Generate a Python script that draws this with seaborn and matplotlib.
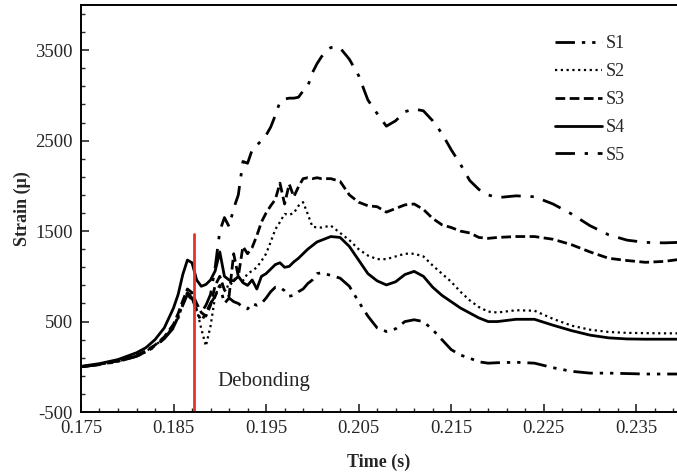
import matplotlib
matplotlib.use("Agg")
import matplotlib.pyplot as plt
from matplotlib.ticker import MultipleLocator
import pandas as pd
import seaborn as sns

# time axis (s), shared by all gauges
time_s = [
    0.175, 0.177, 0.179, 0.181, 0.182, 0.183, 0.184, 0.185, 0.1855, 0.186,
    0.1865, 0.187, 0.1875, 0.188, 0.1885, 0.189, 0.1895, 0.190, 0.1905, 0.191,
    0.1915, 0.192, 0.1925, 0.193, 0.1935, 0.194, 0.1945, 0.195, 0.1955, 0.196,
    0.1965, 0.197, 0.1975, 0.198, 0.1985, 0.199, 0.1995, 0.200, 0.2005, 0.201,
    0.202, 0.203, 0.204, 0.205, 0.206, 0.207, 0.208, 0.209, 0.210, 0.211,
    0.212, 0.213, 0.214, 0.215, 0.216, 0.217, 0.218, 0.219, 0.220, 0.222,
    0.224, 0.226, 0.228, 0.230, 0.232, 0.234, 0.236, 0.238, 0.2395,
]

s1 = [
    0, 25, 60, 118, 165, 230, 315, 440, 550, 690,
    820, 760, 620, 500, 600, 700, 780, 900, 700, 760,
    720, 700, 660, 640, 700, 680, 700, 760, 830, 880,
    880, 840, 780, 790, 830, 860, 920, 960, 1030, 1040,
    1010, 980, 890, 720, 560, 430, 390, 420, 500, 520,
    500, 410, 300, 190, 130, 95, 55, 40, 45, 50,
    40, -10, -50, -70, -70, -75, -80, -80, -80,
]
s2 = [
    0, 25, 60, 120, 170, 235, 320, 450, 560, 700,
    830, 780, 640, 420, 230, 450, 780, 920, 900, 880,
    960, 1000, 950, 1030, 1060, 1100, 1170, 1250, 1380, 1520,
    1600, 1690, 1680, 1700, 1780, 1820, 1690, 1550, 1540, 1540,
    1560, 1480, 1400, 1300, 1230, 1190, 1190, 1220, 1250, 1250,
    1220, 1120, 1030, 940, 830, 735, 660, 610, 600, 625,
    620, 530, 455, 410, 385, 375, 372, 370, 370,
]
s3 = [
    0, 28, 65, 125, 175, 240, 330, 470, 590, 730,
    860, 820, 700, 600, 560, 680, 900, 1000, 850, 780,
    1250, 1000, 1330, 1250, 1320, 1450, 1600, 1700, 1780, 1850,
    2030, 1800, 2020, 1880, 1990, 2080, 2090, 2080, 2090, 2080,
    2080, 2050, 1900, 1820, 1780, 1770, 1710, 1750, 1790, 1800,
    1740, 1640, 1570, 1540, 1500, 1480, 1430, 1420, 1430, 1440,
    1440, 1410, 1350, 1270, 1200, 1175, 1155, 1165, 1185,
]
s4 = [
    5, 35, 80, 155, 210, 300, 430, 650, 800, 1020,
    1180, 1150, 960, 890, 910, 960, 1060, 1270, 1000, 960,
    950, 1000, 930, 900, 960, 860, 1000, 1030, 1080, 1130,
    1150, 1100, 1110, 1160, 1200, 1250, 1300, 1340, 1380, 1400,
    1440, 1430, 1330, 1180, 1030, 950, 905, 940, 1020, 1055,
    1000, 880, 790, 720, 650, 595, 540, 500, 500, 525,
    525, 460, 400, 350, 320, 308, 305, 305, 305,
]
s5 = [
    0, 24, 58, 115, 162, 225, 310, 430, 540, 680,
    800, 740, 620, 600, 680, 800, 1100, 1500, 1650, 1550,
    1750, 1900, 2270, 2250, 2400, 2450, 2500, 2560, 2650, 2780,
    2930, 2960, 2970, 2970, 2980, 3050, 3100, 3250, 3350, 3430,
    3530, 3525, 3400, 3220, 2950, 2800, 2660, 2720, 2820, 2850,
    2830, 2720, 2580, 2400, 2240, 2060, 1960, 1900, 1870, 1890,
    1880, 1800, 1690, 1560, 1460, 1400, 1375, 1370, 1375,
]

series_names = ["S1", "S2", "S3", "S4", "S5"]
debond_time = 0.18716
debond_top = 1470

sns.set_theme(style="ticks")
plt.rcParams["font.family"] = ["Liberation Serif", "DejaVu Serif"]
plt.rcParams["axes.unicode_minus"] = False

fig = plt.figure(figsize=(6.77, 4.75), dpi=100)
ax = fig.add_axes([0.1196, 0.1326, 0.8804, 0.8569])

styles = {
    "S1": dict(linestyle=(0, (7, 2.5, 1.2, 2.5, 1.2, 2.5)), linewidth=2.0),
    "S2": dict(linestyle=(0, (1, 1.6)), linewidth=1.6),
    "S3": dict(linestyle=(0, (3.5, 1.6)), linewidth=2.0),
    "S4": dict(linestyle="-", linewidth=2.0),
    "S5": dict(linestyle=(0, (7, 3.5, 1.2, 3.5)), linewidth=2.0),
}

for name, values in zip(series_names, [s1, s2, s3, s4, s5]):
    df = pd.DataFrame({"time": time_s, "strain": values})
    sns.lineplot(data=df, x="time", y="strain", color="black", label=name,
                 ax=ax, **styles[name])

ax.plot([debond_time, debond_time], [-500, debond_top], color="#e8312a", linewidth=2.0)
ax.text(0.18975, -160, "Debonding", fontsize=15, ha="left", va="center")

ax.set_xlim(0.175, 0.2394)
ax.set_ylim(-500, 4000)
ax.xaxis.set_major_locator(MultipleLocator(0.01, offset=0.005))
ax.xaxis.set_minor_locator(MultipleLocator(0.002, offset=0.001))
ax.yaxis.set_major_locator(MultipleLocator(1000, offset=500))
ax.yaxis.set_minor_locator(MultipleLocator(200, offset=100))
ax.xaxis.set_major_formatter(matplotlib.ticker.FormatStrFormatter("%.3f"))
ax.tick_params(which="major", direction="in", length=6, width=1.2, labelsize=13.5, pad=6)
ax.tick_params(which="minor", direction="in", length=3, width=1.0)
ax.tick_params(axis="x", which="both", top=False)

for side in ["left", "bottom", "top"]:
    ax.spines[side].set_linewidth(1.4)
    ax.spines[side].set_color("black")
ax.spines["right"].set_visible(False)

ax.set_xlabel("Time (s)", fontsize=13, fontweight="bold", labelpad=12)
ax.set_ylabel("Strain (μ)", fontsize=13, fontweight="bold", labelpad=3)

ax.legend(loc="upper right", bbox_to_anchor=(0.94, 0.965), frameon=False,
          fontsize=13, handlelength=2.6, handletextpad=0.2, labelspacing=0.6)

fig.savefig("out.png", dpi=100)
